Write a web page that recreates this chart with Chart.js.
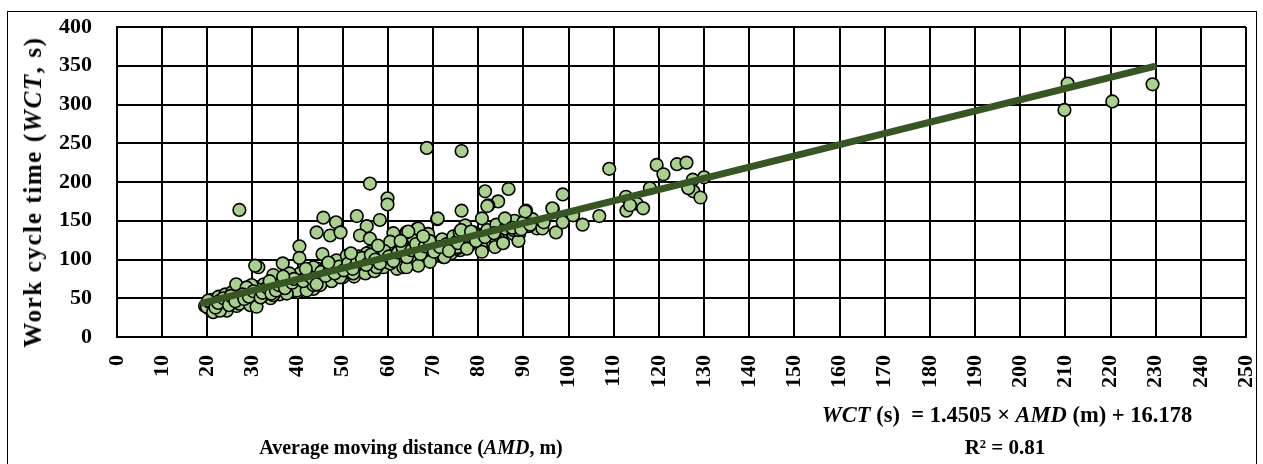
<!DOCTYPE html>
<html>
<head>
<meta charset="utf-8">
<script src="https://cdn.jsdelivr.net/npm/chart.js@4.4.1/dist/chart.umd.min.js"></script>
<style>
  body { margin: 0; background: #fff; }
  #wrap { position: relative; width: 1263px; height: 464px; overflow: hidden; }
  #frame { position: absolute; left: 7px; top: 11px; width: 1250px; height: 470px; border: 1.5px solid #000; box-sizing: border-box; }
  canvas { position: absolute; left: 0; top: 0; }
  .lbl { position: absolute; font-family: "Liberation Serif", serif; font-weight: bold; font-size: 20px; color: #000; white-space: nowrap; }
  #ytitle { left: 33px; top: 192px; font-size: 25px; letter-spacing: 1.6px; transform: translate(-50%, -50%) rotate(-90deg); }
  #xtitle { left: 411px; top: 447px; transform: translate(-50%, -50%); }
  #eq { left: 1007px; top: 415px; font-size: 22.5px; transform: translate(-50%, -50%); }
  #r2 { left: 1005px; top: 447px; font-size: 21px; transform: translate(-50%, -50%); }
</style>
</head>
<body>
<div id="wrap">
  <div id="frame"></div>
  <canvas id="chart" width="1263" height="464"></canvas>
  <div class="lbl" id="ytitle">Work cycle time (<i>WCT</i>, s)</div>
  <div class="lbl" id="xtitle">Average moving distance (<i>AMD</i>, m)</div>
  <div class="lbl" id="eq"><i>WCT</i> (s)&nbsp; = 1.4505 × <i>AMD</i> (m) + 16.178</div>
  <div class="lbl" id="r2">R² = 0.81</div>
</div>
<script>
const amd = [
  19.5, 20, 20.5, 21, 21.5, 22, 22.5, 23, 23.5, 24, 24, 24.5, 25, 25.5, 26, 26.5, 27, 27.5, 28, 28.5,
  29, 29.5, 30, 30.5, 31, 31, 31.5, 32, 32.5, 33, 33.5, 34, 34.5, 35, 35.5, 36, 36, 36.5, 37, 37.5,
  38, 38.5, 39, 39.5, 40, 40, 40.5, 41, 41.5, 42, 42.5, 43, 43.5, 44, 44.5, 45, 45.5, 46, 46.5, 47,
  47.5, 48, 48.5, 49, 49.5, 50, 50.5, 51, 51.5, 52, 52.5, 53, 53.5, 54, 54.5, 55, 55.5, 56, 56.5, 57,
  57.5, 58, 58.5, 59, 59.5, 60, 60.5, 61, 61.5, 62, 62.5, 63, 63.5, 64, 64.5, 65, 65.5, 66, 66.5, 67,
  67.5, 68, 68.5, 69, 69.5, 70, 70.5, 71, 72, 72.5, 73, 74, 74.5, 75, 76, 77, 78, 79, 80, 81,
  82, 82.5, 83, 84, 85, 86, 87, 88, 89, 90, 92, 93,
  27.1, 40.4, 40.4, 43.5, 31.3, 30.6, 36.7, 38.2, 26.4, 34.6, 39.8, 34.6, 27.1, 19.9, 21.3, 22.8, 24.3, 29.5, 32.4, 30.9,
  29.8, 28.7, 20.6, 37.6, 42, 43.5, 22.8, 30.9,
  68.6, 76.3, 56, 59.9, 59.9, 81.5, 86.7, 84.4, 82.2, 76.3, 70.9, 80.8, 85.9, 45.7, 48.5, 53.1, 58.2, 55.3, 44.2, 47.2,
  49.5, 53.8, 56, 61.2, 64.1, 66.5, 68.9, 60.5, 63.4, 75.9, 75.2, 78.9, 80.8, 80.8, 84.4, 83.3, 87.8, 69.3, 72.3, 66.4,
  45.5, 43.5, 45, 48.6, 50.9, 55.3, 58.2, 60.5, 57.5, 63.4, 52.3, 49.4,
  109, 119.5, 121, 124, 126.1, 127.5, 130, 127.6, 129.2, 126.5, 112.7, 115.1, 112.8, 116.5, 118, 113.6, 106.8, 103.1, 98.7, 96.5,
  97.2, 98.7, 101, 94.2, 91.3, 90.6, 88.9, 87.8, 96.4, 90.4, 91.1, 82, 83.7, 83.7, 77.1, 76.2, 78.4, 75.4, 72.5, 71,
  66.7, 64.5, 66.7, 64.1, 80.8, 88.9,
  210.5, 209.8, 220.4, 229.3
];
const wct = [
  40, 44, 36, 48, 42, 38, 52, 45, 40, 55, 36, 48, 43, 58, 50, 40, 62, 46, 53, 58,
  45, 61, 50, 56, 64, 47, 53, 60, 68, 55, 62, 50, 70, 58, 65, 74, 55, 61, 68, 58,
  72, 63, 78, 66, 70, 58, 82, 65, 75, 68, 85, 73, 62, 78, 88, 70, 80, 74, 92, 84,
  72, 88, 95, 80, 86, 77, 92, 100, 84, 90, 78, 96, 104, 88, 93, 82, 100, 110, 92, 85,
  105, 97, 115, 90, 102, 108, 96, 120, 100, 88, 112, 104, 95, 118, 108, 100, 125, 112, 104, 96,
  118, 108, 128, 112, 100, 122, 115, 105, 126, 113, 120, 108, 130, 122, 112, 128, 118, 125, 132, 115,
  138, 122, 126, 145, 128, 140, 146, 150, 132, 148, 152, 140,
  164, 117, 102, 89, 90, 92, 95, 82, 68, 80, 60, 54, 43, 39, 32, 47, 34, 41, 54, 62,
  67, 64, 45, 56, 60, 67, 34, 39,
  244, 240, 198, 179, 171, 188, 191, 175, 170, 163, 152, 153, 153, 154, 148, 156, 151, 143, 135, 131,
  135, 131, 127, 134, 135, 140, 133, 123, 118, 135, 114, 135, 118, 110, 127, 119, 133, 97, 103, 99,
  107, 90, 67, 99, 105, 108, 114, 95, 90, 90, 82, 77,
  217, 222, 210, 223, 225, 203, 206, 188, 180, 192, 181, 172, 163, 166, 192, 170, 156, 145, 184, 165,
  135, 148, 157, 140, 144, 163, 124, 138, 166, 162, 143, 169, 129, 116, 144, 138, 136, 116, 103, 153,
  140, 136, 92, 90, 129, 138,
  327, 293, 304, 326
];
// more points hidden in the dense band under the trend line
const amdBand = [
  20.2, 21.8, 22.4, 23.6, 24.8, 25.2, 26.2, 27.8, 28.2, 29.2, 30.2, 31.8, 32.2, 33.2, 34.2, 35.2, 35.8, 37.2, 38.8, 39.2,
  41.2, 42.2, 43.2, 44.2, 45.2, 46.2, 47.2, 48.2, 49.2, 50.2, 51.2, 52.2, 53.2, 54.2, 55.2, 56.2, 57.2, 58.2, 59.2, 60.2,
  61.2, 62.2, 63.2, 64.2, 65.2, 66.2, 67.2, 68.2, 69.2, 70.2,
  71.5, 73.5, 75.5, 77.5, 79.5, 81.5, 83.5, 85.5, 87.5, 89.5, 91.5, 94.5,
  33.8, 36.8, 41.8, 46.8, 51.8, 57.8, 62.8, 67.8
];
const wctBand = [
  47, 38, 44, 50, 41, 53, 46, 55, 49, 52, 59, 51, 57, 64, 56, 60, 67, 63, 70, 75,
  72, 80, 76, 68, 84, 79, 89, 82, 91, 86, 95, 88, 98, 102, 93, 106, 100, 95, 111, 104,
  98, 109, 116, 103, 112, 120, 107, 117, 124, 110,
  116, 111, 121, 114, 124, 129, 134, 121, 141, 139, 145, 148,
  72, 78, 88, 96, 108, 118, 124, 130
];
// fitted line end points
const trendX = [19.1, 229.5];
const trendY = [43.9, 349];
const xTicks = [0, 10, 20, 30, 40, 50, 60, 70, 80, 90, 100, 110, 120, 130, 140, 150, 160, 170, 180, 190, 200, 210, 220, 230, 240, 250];
const yTicks = [0, 50, 100, 150, 200, 250, 300, 350, 400];

const allX = amd.concat(amdBand);
const allY = wct.concat(wctBand);
const pts = allX.map((x, i) => ({ x: x, y: allY[i] }));
const trend = trendX.map((x, i) => ({ x: x, y: trendY[i] }));

const tickFont = { family: 'Liberation Serif', weight: 'bold', size: 22 };

new Chart(document.getElementById('chart'), {
  type: 'scatter',
  data: {
    datasets: [{
      type: 'line',
      data: trend,
      borderColor: '#375623',
      borderWidth: 7,
      borderCapStyle: 'round',
      pointRadius: 0,
      order: 0
    }, {
      data: pts,
      backgroundColor: '#a9d18e',
      borderColor: '#000',
      borderWidth: 1.6,
      pointRadius: 6.3,
      order: 1
    }]
  },
  options: {
    responsive: false,
    animation: false,
    layout: { padding: { left: 0, top: 27, right: 17, bottom: 0 } },
    plugins: { legend: { display: false }, tooltip: { enabled: false } },
    scales: {
      x: {
        type: 'linear', min: 0, max: 250,
        afterFit: s => { s.height = 127; s.paddingLeft = 0; s.paddingRight = 0; },
        afterBuildTicks: s => { s.ticks = xTicks.map(v => ({ value: v })); },
        grid: { color: '#000', lineWidth: 2, drawTicks: false },
        border: { color: '#000', width: 2 },
        ticks: { color: '#000', font: tickFont, minRotation: 90, maxRotation: 90, padding: 18 }
      },
      y: {
        min: 0, max: 400,
        afterFit: s => { s.width = 117; s.paddingTop = 0; s.paddingBottom = 0; },
        afterBuildTicks: s => { s.ticks = yTicks.map(v => ({ value: v })); },
        grid: { color: '#000', lineWidth: 2, drawTicks: false },
        border: { color: '#000', width: 2 },
        ticks: { color: '#000', font: tickFont, padding: 25 }
      }
    }
  }
});
</script>
</body>
</html>
